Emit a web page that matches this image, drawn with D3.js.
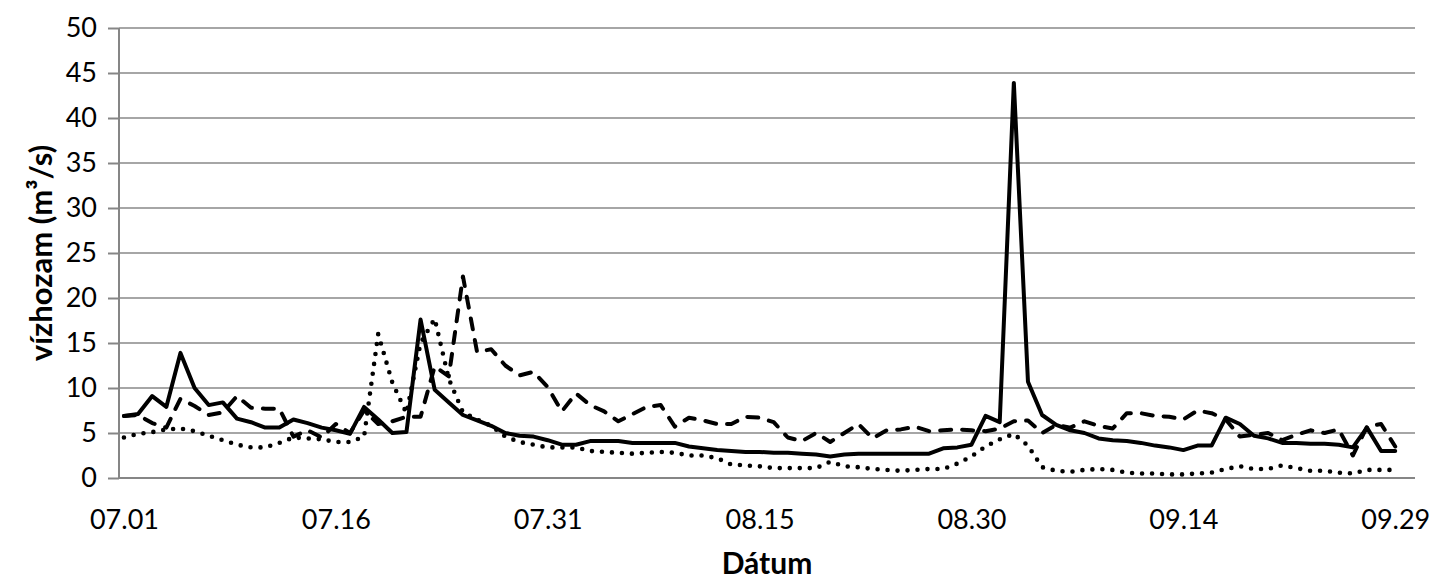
<!DOCTYPE html>
<html>
<head>
<meta charset="utf-8">
<script src="https://cdn.jsdelivr.net/npm/d3@7"></script>
<style>
  body { margin: 0; background: #fff; }
  svg { display: block; }
</style>
</head>
<body>
<script>
// daily discharge, 07.01 - 09.29
let solid = [
  6.9, 7.1, 9.1, 7.9, 13.9, 10.0, 8.1, 8.4, 6.6, 6.2,
  5.6, 5.6, 6.5, 6.1, 5.6, 5.3, 4.9, 7.9, 6.5, 5.0,
  5.1, 17.6, 9.8, 8.4, 7.0, 6.4, 5.8, 5.0, 4.7, 4.6,
  4.2, 3.7, 3.7, 4.1, 4.1, 4.1, 3.9, 3.9, 3.9, 3.9,
  3.5, 3.3, 3.1, 3.0, 2.9, 2.9, 2.8, 2.8, 2.7, 2.6,
  2.4, 2.6, 2.7, 2.7, 2.7, 2.7, 2.7, 2.7, 3.3, 3.4,
  3.7, 6.9, 6.2, 43.9, 10.7, 7.0, 5.9, 5.3, 5.0, 4.4,
  4.2, 4.1, 3.9, 3.6, 3.4, 3.1, 3.6, 3.6, 6.7, 6.0,
  4.7, 4.4, 3.9, 3.9, 3.8, 3.8, 3.7, 3.4, 5.6, 3.0,
  3.0
]
let dashed = [
  6.9, 7.0, 6.1, 5.6, 8.8, 8.0, 7.0, 7.3, 9.1, 7.8,
  7.7, 7.7, 4.6, 5.3, 4.5, 6.0, 5.0, 7.5, 6.0, 6.3,
  6.8, 6.8, 12.4, 11.3, 22.4, 14.0, 14.3, 12.5, 11.4, 11.8,
  10.1, 7.4, 9.4, 8.1, 7.4, 6.3, 7.1, 7.9, 8.1, 5.7,
  6.7, 6.4, 6.0, 6.0, 6.8, 6.7, 6.2, 4.5, 4.1, 5.0,
  4.0, 5.0, 6.0, 4.4, 5.3, 5.4, 5.7, 5.2, 5.3, 5.4,
  5.3, 5.2, 5.5, 6.3, 6.4, 5.0, 5.9, 5.6, 6.3, 5.8,
  5.5, 7.2, 7.2, 6.9, 6.8, 6.5, 7.5, 7.2, 6.5, 4.6,
  4.8, 5.0, 4.2, 4.8, 5.3, 5.0, 5.4, 2.5, 5.7, 6.0,
  3.5
]
let dotted = [
  4.5, 4.9, 5.1, 5.4, 5.5, 5.2, 4.7, 4.2, 3.7, 3.4,
  3.4, 3.9, 4.5, 4.4, 4.3, 4.0, 4.0, 4.6, 16.0, 10.6,
  7.2, 15.0, 17.7, 11.0, 7.3, 6.5, 5.8, 4.6, 4.0, 3.7,
  3.4, 3.4, 3.4, 3.0, 2.9, 2.8, 2.7, 2.8, 2.9, 2.8,
  2.5, 2.5, 2.2, 1.5, 1.4, 1.3, 1.1, 1.1, 1.1, 1.1,
  1.8, 1.3, 1.2, 1.0, 0.9, 0.8, 0.9, 1.0, 1.0, 1.6,
  2.4, 3.5, 4.3, 4.9, 3.6, 1.2, 0.8, 0.7, 0.9, 1.0,
  0.9, 0.6, 0.5, 0.5, 0.4, 0.4, 0.5, 0.6, 1.0, 1.3,
  1.0, 1.0, 1.4, 1.1, 0.8, 0.8, 0.6, 0.5, 0.9, 0.9,
  0.9
]
let yTicks = [0, 5, 10, 15, 20, 25, 30, 35, 40, 45, 50]
let xTickDays = ['07.01', '07.16', '07.31', '08.15', '08.30', '09.14', '09.29']
let yTitle = 'vízhozam (m³/s)'
let xTitle = 'Dátum'

let width = 1434
let height = 583
let plotLeft = 119
let plotRight = 1415
let plotTop = 28
let plotBottom = 478
let font = 'Lato, "Open Sans", sans-serif'

let parseDay = d3.timeParse('%Y.%m.%d')
let start = parseDay('2000.07.01')
let days = solid.map((d, i) => d3.timeDay.offset(start, i))

let scaleX = d3.scaleTime()
  .domain([new Date(+start - 0.35 * 864e5), new Date(+start + 91.4 * 864e5)])
  .range([plotLeft, plotRight])
let scaleY = d3.scaleLinear()
  .domain([0, 50])
  .range([plotBottom, plotTop])

let svg = d3.select('body')
  .append('svg')
  .attr('width', width)
  .attr('height', height)

// horizontal gridlines
svg.append('g')
  .selectAll('line')
  .data(yTicks.slice(1))
  .enter()
  .append('line')
  .attr('x1', plotLeft)
  .attr('x2', plotRight)
  .attr('y1', d => scaleY(d))
  .attr('y2', d => scaleY(d))
  .attr('stroke', '#a6a6a6')
  .attr('stroke-width', 2)

// y axis
let yAxis = svg.append('g')
  .attr('transform', 'translate(' + plotLeft + ',0)')
  .call(d3.axisLeft(scaleY).tickValues(yTicks).tickSize(11).tickPadding(11))
yAxis.selectAll('line, path').attr('stroke', '#868686').attr('stroke-width', 2)
yAxis.select('path').attr('d', 'M0,' + plotBottom + 'V' + plotTop)
yAxis.selectAll('text')
  .attr('font-family', font)
  .attr('font-size', 27)
  .attr('fill', '#000')

// x axis
let xTickDates = xTickDays.map(d => parseDay('2000.' + d))
let xAxis = svg.append('g')
  .attr('transform', 'translate(0,' + plotBottom + ')')
  .call(d3.axisBottom(scaleX)
    .tickValues(xTickDates)
    .tickFormat(d3.timeFormat('%m.%d'))
    .tickSize(0)
    .tickPadding(32))
xAxis.select('path')
  .attr('d', 'M' + plotLeft + ',0H' + plotRight)
  .attr('stroke', '#868686')
  .attr('stroke-width', 2)
xAxis.selectAll('text')
  .attr('font-family', font)
  .attr('font-size', 27)
  .attr('fill', '#000')

// series
let line = d3.line()
  .x((d, i) => scaleX(days[i]))
  .y(d => scaleY(d))

let series = [
  { values: dotted, dash: '0 10', w: 4.6 },
  { values: dashed, dash: '11 11', w: 4 },
  { values: solid, dash: null, w: 4 }
]

svg.append('g')
  .selectAll('path')
  .data(series)
  .enter()
  .append('path')
  .attr('d', d => line(d.values))
  .attr('fill', 'none')
  .attr('stroke', '#000')
  .attr('stroke-width', d => d.w)
  .attr('stroke-linejoin', 'round')
  .attr('stroke-linecap', 'round')
  .attr('stroke-dasharray', d => d.dash)

// axis titles
svg.append('text')
  .attr('transform', 'translate(52,' + (plotTop + plotBottom) / 2 + ') rotate(-90)')
  .attr('text-anchor', 'middle')
  .attr('font-family', font)
  .attr('font-weight', 'bold')
  .attr('font-size', 31)
  .text(yTitle)

svg.append('text')
  .attr('x', (plotLeft + plotRight) / 2)
  .attr('y', 574)
  .attr('text-anchor', 'middle')
  .attr('font-family', font)
  .attr('font-weight', 'bold')
  .attr('font-size', 30)
  .text(xTitle)
</script>
</body>
</html>
